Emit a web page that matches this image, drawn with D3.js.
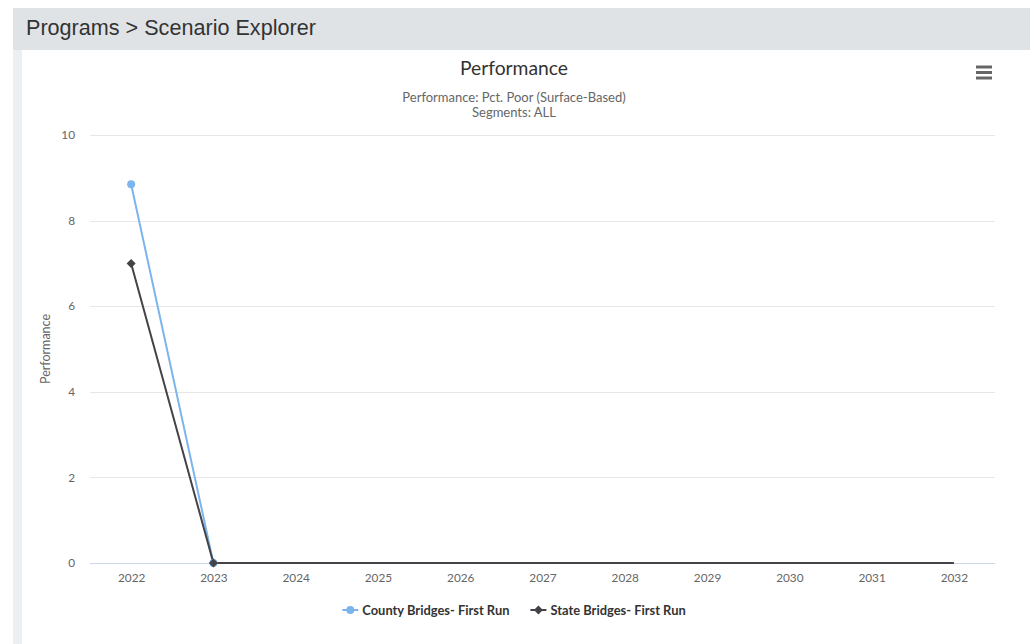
<!DOCTYPE html>
<html><head><meta charset="utf-8">
<script src="https://cdn.jsdelivr.net/npm/d3@7"></script>
<style>
html,body{margin:0;padding:0;background:#fff;width:1032px;height:644px;overflow:hidden;}
svg{display:block;}
</style></head>
<body>
<svg id="c" width="1032" height="644"></svg>
<script>
const years = ["2022","2023","2024","2025","2026","2027","2028","2029","2030","2031","2032"];
const countyValues = [8.85,0,0,0,0,0,0,0,0,0,0];
const stateValues = [7.0,0,0,0,0,0,0,0,0,0,0];
const yTicks = [0,2,4,6,8,10];
const seriesNames = ["County Bridges- First Run","State Bridges- First Run"];
const titleText = "Performance";
const subtitleLines = ["Performance: Pct. Poor (Surface-Based)","Segments: ALL"];
const yAxisTitle = "Performance";
const headerText = "Programs > Scenario Explorer";

(function(){
const svg = d3.select("#c");
const font = "Lato,'Open Sans',sans-serif";

// page chrome
svg.append("rect").attr("x",13).attr("y",8).attr("width",1017).attr("height",42).attr("fill","#dfe3e6");
svg.append("rect").attr("x",13).attr("y",50).attr("width",9).attr("height",594).attr("fill","#ebeff2");
svg.append("text").attr("x",26).attr("y",35).attr("font-family","'Liberation Sans',Arial,sans-serif")
  .attr("font-size",21.6).attr("fill","#333").text(headerText);

const pL=90,pR=995,pT=135,pB=563;
const x = d3.scalePoint().domain(years).range([pL,pR]).padding(0.5);
const y = d3.scaleLinear().domain([0,10]).range([pB,pT]);

// gridlines
svg.append("g").selectAll("line").data(yTicks.filter(d=>d!==0)).join("line")
  .attr("x1",pL).attr("x2",pR).attr("y1",d=>Math.round(y(d))+0.5).attr("y2",d=>Math.round(y(d))+0.5)
  .attr("stroke","#e6e6e6").attr("stroke-width",1);

// y axis labels
const yAxis = d3.axisLeft(y).tickValues(yTicks).tickSize(0).tickPadding(0);
const yg = svg.append("g").attr("transform",`translate(${pL-15},0)`).call(yAxis);
yg.select(".domain").remove();
yg.selectAll("text").attr("font-family",font).attr("font-size",11.8).attr("fill","#666").attr("dy","0.32em");

// x axis
const xAxis = d3.axisBottom(x).tickSize(0).tickPadding(0);
const xg = svg.append("g").attr("transform",`translate(0,${pB})`).call(xAxis);
xg.select(".domain").attr("d",`M${pL},0.5H${pR}`).attr("stroke","#ccd6eb").attr("stroke-width",1);
xg.selectAll("text").attr("font-family",font).attr("font-size",11.8).attr("fill","#666").attr("y",10.5).attr("dy","0.71em");

// titles
svg.append("text").attr("x",514).attr("y",75).attr("text-anchor","middle").attr("font-family",font)
  .attr("font-size",19.3).attr("fill","#333").text(titleText);
subtitleLines.forEach((t,i)=>{
  svg.append("text").attr("x",514).attr("y",102+i*15).attr("text-anchor","middle").attr("font-family",font)
    .attr("font-size",13).attr("fill","#666").text(t);
});
svg.append("text").attr("transform","translate(50,349) rotate(-90)").attr("text-anchor","middle")
  .attr("font-family",font).attr("font-size",12.5).attr("fill","#666").text(yAxisTitle);

// hamburger
[67,72.5,78].forEach(yy=>{
  svg.append("line").attr("x1",976).attr("x2",992).attr("y1",yy).attr("y2",yy).attr("stroke","#666").attr("stroke-width",3);
});

const line = d3.line().x((d,i)=>x(years[i])).y(d=>y(d));
const colors = ["#7cb5ec","#434348"];
const series = [countyValues, stateValues];
series.forEach((vals,si)=>{
  svg.append("path").attr("d",line(vals)).attr("fill","none").attr("stroke",colors[si]).attr("stroke-width",2)
    .attr("stroke-linejoin","round");
});
// markers where value changes
const showMarker = (vals,i)=> i===0 || vals[i]!==vals[i-1];
const diamond = d3.symbol().type(d3.symbolDiamond2).size(52);
series.forEach((vals,si)=>{
  vals.forEach((v,i)=>{
    if(!showMarker(vals,i)) return;
    if(si===0) svg.append("circle").attr("cx",x(years[i])).attr("cy",y(v)).attr("r",4).attr("fill",colors[0]);
    else svg.append("path").attr("d",diamond()).attr("transform",`translate(${x(years[i])},${y(v)})`).attr("fill",colors[1]);
  });
});

// legend (centered)
const lg = svg.append("g");
let cx = 0;
seriesNames.forEach((name,i)=>{
  const g = lg.append("g").attr("transform",`translate(${cx},0)`);
  g.append("line").attr("x1",0).attr("x2",16).attr("y1",610).attr("y2",610).attr("stroke",colors[i]).attr("stroke-width",2);
  if(i===0) g.append("circle").attr("cx",8).attr("cy",610).attr("r",4).attr("fill",colors[i]);
  else g.append("path").attr("d",diamond()).attr("transform",`translate(8,610)`).attr("fill",colors[i]);
  const t = g.append("text").attr("x",20).attr("y",614.5).attr("font-family",font).attr("font-size",12.9).attr("font-weight","bold")
    .attr("fill","#333").text(name);
  cx += 20 + t.node().getComputedTextLength() + 21;
});
const totalW = cx - 21;
lg.attr("transform",`translate(${514 - totalW/2},0)`);
})();
</script>
</body></html>
